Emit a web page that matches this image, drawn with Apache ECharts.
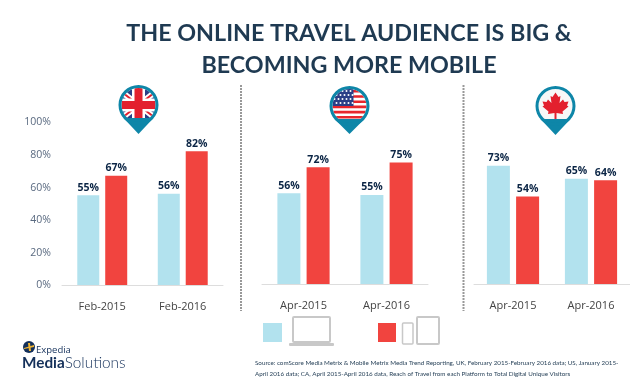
<!DOCTYPE html>
<html><head><meta charset="utf-8">
<style>html,body{margin:0;padding:0;background:#fff}#c{width:630px;height:387px}</style>
<script src="https://cdn.jsdelivr.net/npm/echarts@6/dist/echarts.min.js"></script>
</head><body><div id="c"></div>
<script>
const ukCategories = ['Feb-2015','Feb-2016'];
const ukDesktop = [55,56];
const ukMobile = [67,82];
const usCategories = ['Apr-2015','Apr-2016'];
const usDesktop = [56,55];
const usMobile = [72,75];
const caCategories = ['Apr-2015','Apr-2016'];
const caDesktop = [73,65];
const caMobile = [54,64];
const titleText = 'THE ONLINE TRAVEL AUDIENCE IS BIG &\nBECOMING MORE MOBILE';
const sourceText = 'Source: comScore Media Metrix & Mobile Metrix Media Trend Reporting, UK, February 2015-February 2016 data; US, January 2015-\nApril 2016 data; CA, April 2015-April 2016 data, Reach of Travel from each Platform to Total Digital Unique Visitors';

const BLUE='#B2E2EE', RED='#F1443F', TEAL='#0E86A8', NAVY='#0B2545', GREY='#C8C8C8';
const panels=[
 {c:ukCategories,d:ukDesktop,m:ukMobile,left:62,width:161,top:122,bottom:102,bw:22},
 {c:usCategories,d:usDesktop,m:usMobile,left:262,width:166,top:122,bottom:103,bw:23},
 {c:caCategories,d:caDesktop,m:caMobile,left:474,width:165,top:122,bottom:103,bw:23}
];
const grid=[],xAxis=[],yAxis=[],series=[];
panels.forEach((p,i)=>{
 grid.push({left:p.left,width:p.width,top:p.top,bottom:p.bottom,containLabel:false});
 xAxis.push({type:'category',gridIndex:i,data:p.c,axisTick:{show:false},
  axisLine:{lineStyle:{color:'#DDDDDD',width:1}},
  axisLabel:{color:'#444',fontSize:11,fontFamily:'Open Sans',margin:16}});
 yAxis.push({type:'value',gridIndex:i,min:0,max:100,interval:20,splitLine:{show:false},
  axisLine:{show:false},axisTick:{show:false},
  axisLabel:{show:i===0,formatter:'{value}%',color:'#5A6A80',fontSize:10.5,fontFamily:'Open Sans',margin:11,verticalAlign:'top',padding:[-5,0,0,0]}});
 [[p.d,BLUE],[p.m,RED]].forEach(([v,col])=>series.push({
  type:'bar',xAxisIndex:i,yAxisIndex:i,data:v,barWidth:p.bw,barGap:'27%',
  itemStyle:{color:col},animation:false,
  label:{show:true,position:'top',distance:2,formatter:'{c}%',color:NAVY,fontWeight:'bold',fontSize:10.5,fontFamily:'Open Sans'}
 }));
});
function pin(cx,cy,tip,flag){
 return [...flag(cx,cy),
  {type:'ring',shape:{cx,cy,r:27,r0:17},style:{fill:'#fff'}},
  {type:'polygon',shape:{points:[[cx-15,cy+13],[cx+15,cy+13],[cx,tip]]},style:{fill:TEAL}},
  {type:'ring',shape:{cx,cy,r:20,r0:17},style:{fill:TEAL}}];
}
function ukFlag(x,y){const N='#2B3F87',R='#E3202E',W='#fff';
 const diag=(col,t)=>[[[x-18,y-14],[x+18,y+14]],[[x-18,y+14],[x+18,y-14]]].map(l=>({type:'line',shape:{x1:l[0][0],y1:l[0][1],x2:l[1][0],y2:l[1][1]},style:{stroke:col,lineWidth:t}}));
 return [{type:'rect',shape:{x:x-18,y:y-18,width:36,height:36},style:{fill:N}},
  ...diag(W,6),...diag(R,2),
  {type:'rect',shape:{x:x-18,y:y-6.5,width:36,height:13},style:{fill:W}},
  {type:'rect',shape:{x:x-6.5,y:y-18,width:13,height:36},style:{fill:W}},
  {type:'rect',shape:{x:x-18,y:y-4,width:36,height:8},style:{fill:R}},
  {type:'rect',shape:{x:x-4,y:y-18,width:8,height:36},style:{fill:R}}];
}
function usFlag(x,y){const out=[{type:'rect',shape:{x:x-18,y:y-18,width:36,height:36},style:{fill:'#fff'}}];
 for(let k=0;k<7;k++)out.push({type:'rect',shape:{x:x-18,y:y-16+k*5.2,width:36,height:2.6},style:{fill:'#E8262C'}});
 out.push({type:'rect',shape:{x:x-18,y:y-18,width:22,height:18},style:{fill:'#2B3F87'}});
 for(let r=0;r<4;r++)for(let c=0;c<5;c++)out.push({type:'circle',shape:{cx:x-15+c*4+(r%2)*2,cy:y-15+r*4,r:1},style:{fill:'#fff'}});
 return out;
}
function caFlag(x,y){
 const L=[[0,-13.5],[3,-9],[5,-10],[4,-3],[7.5,-6.5],[9,-4],[13,-4.5],[11.5,-0.5],[13,0.5],[7,5.5],[7.5,8],[1,7],[1,14],[-1,14],[-1,7],[-7.5,8],[-7,5.5],[-13,0.5],[-11.5,-0.5],[-13,-4.5],[-9,-4],[-7.5,-6.5],[-4,-3],[-5,-10],[-3,-9]];
 return [{type:'rect',shape:{x:x-18,y:y-18,width:36,height:36},style:{fill:'#F7F7F7'}},
  {type:'polygon',shape:{points:L.map(p=>[x+p[0],y+p[1]])},style:{fill:'#E3202E'}}];
}
const dot=(x)=>({type:'line',shape:{x1:x,y1:85,x2:x,y2:311},style:{stroke:'#999',lineWidth:2,lineDash:[2,1]}});
const box=(x,y,w,h,r,lw)=>({type:'rect',shape:{x,y,width:w,height:h,r:r||1},style:{fill:'none',stroke:GREY,lineWidth:lw||2}});
const graphic=[
 dot(241),dot(463.5),
 ...pin(138.5,105,134,ukFlag),...pin(349.5,106,134,usFlag),...pin(555.5,106,135,caFlag),
 {type:'rect',shape:{x:263,y:323,width:19,height:19},style:{fill:BLUE}},
 box(293,317,37,25),
 {type:'rect',shape:{x:289,y:343,width:45,height:3,r:1},style:{fill:GREY}},
 {type:'rect',shape:{x:378,y:323,width:18,height:19},style:{fill:RED}},
 box(402.5,323,10.5,21,1,1.5),
 box(417,317,22,27,1,2),
 {type:'circle',shape:{cx:29,cy:347,r:6},style:{fill:'#14305A'}},
 {type:'polygon',shape:{points:[[24,348],[34,345],[34,347],[24,349]]},style:{fill:'#F2B632'}},
 {type:'polygon',shape:{points:[[28,343],[30,343],[31,351],[29,351]]},style:{fill:'#F2B632'}},
 {type:'text',style:{x:36,y:345.5,text:'Expedia',fill:'#14305A',font:'9.5px "Open Sans"'}},
 {type:'text',style:{x:22,y:355.5,rich:{a:{fill:'#14305A',font:'bold 15.3px "Lato"'},b:{fill:'#14305A',font:'300 15.3px "Lato"'}},text:'{a|Media}{b|Solutions}'}},
 {type:'text',style:{x:255,y:357,text:sourceText,fill:'#1F3A52',font:'6.25px "Lato"',lineHeight:11}}
];
const chart=echarts.init(document.getElementById('c'),null,{renderer:'canvas'});
chart.setOption({animation:false,backgroundColor:'#fff',
 title:{text:titleText,left:344,top:12,textAlign:'center',textStyle:{color:'#1F3A52',fontFamily:'Lato',fontWeight:'bold',fontSize:23.3,lineHeight:32}},
 grid,xAxis,yAxis,series,graphic});
</script></body></html>
